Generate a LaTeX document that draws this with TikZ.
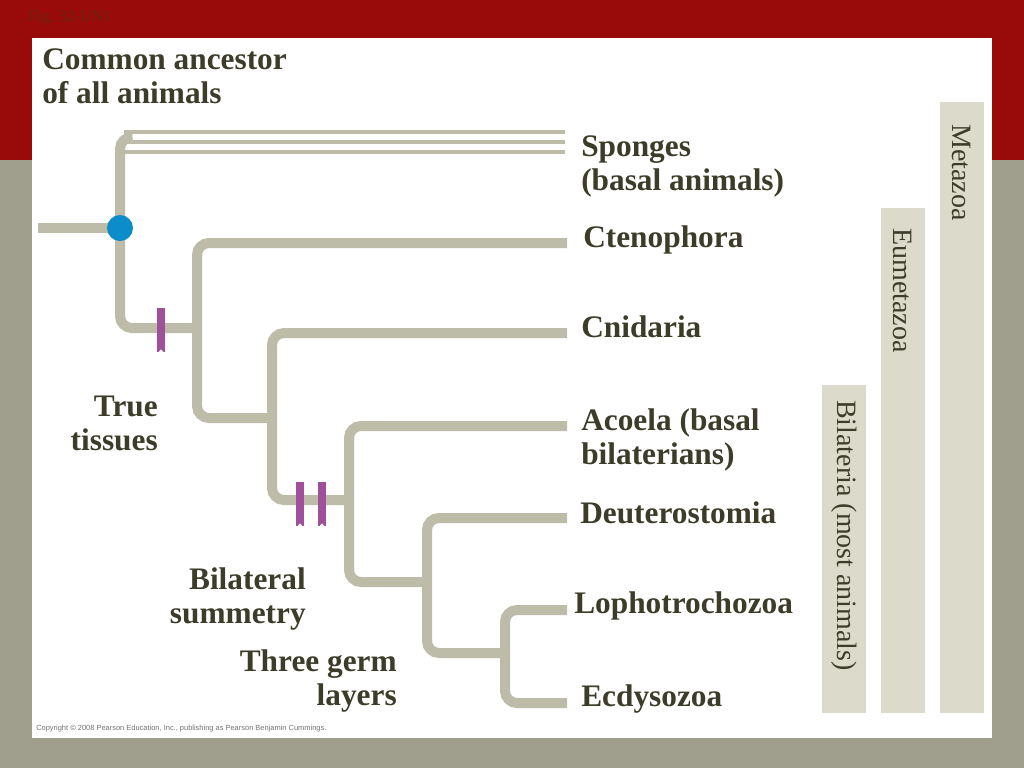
\documentclass[tikz,border=0pt]{standalone}
\usepackage{fontspec}
\setmainfont{Liberation Serif}
\newfontfamily\copyfont{Liberation Sans}
\definecolor{slidered}{HTML}{990B0B}
\definecolor{slidegray}{HTML}{A09E8C}
\definecolor{stem}{HTML}{BDBCA8}
\definecolor{dotblue}{HTML}{0D8CCB}
\definecolor{purp}{HTML}{A0509B}
\definecolor{cladefill}{HTML}{DCDBCB}
\definecolor{ink}{HTML}{3D3C29}
\definecolor{figink}{HTML}{6A2412}
\begin{document}
\begin{tikzpicture}[x=0.75pt, y=-0.75pt,
  branch/.style={draw=stem, line width=7.5pt, rounded corners=9pt},
  spongeline/.style={draw=stem, line width=3pt},
  taxon/.style={anchor=base west, align=left, inner sep=0pt, text=ink,
    font=\bfseries\fontsize{23.5}{25.5}\selectfont},
  trait/.style={taxon, anchor=base east, align=right},
  cladename/.style={rotate=-90, anchor=west, inner sep=0pt, text=ink,
    font=\fontsize{21}{23}\selectfont},
  traitbar/.style={fill=purp, minimum width=6pt, minimum height=33pt, inner sep=0pt}]
  % slide background
  \useasboundingbox (0,0) rectangle (1024,768);
  \fill[slidegray] (0,0) rectangle (1024,768);
  \fill[slidered] (0,0) rectangle (1024,160);
  \fill[white] (32,38) rectangle (992,738);
  \node[anchor=base west, inner sep=0pt, text=figink, font=\fontsize{12}{14}\selectfont] (fig) at (28,21) {Fig. 32-UN1};
  \node[anchor=base west, inner sep=0pt, text=black!55, font=\copyfont\fontsize{5.6}{7}\selectfont] (copy) at (36,730) {Copyright \textcopyright\ 2008 Pearson Education, Inc., publishing as Pearson Benjamin Cummings.};

  % clade bars
  \fill[cladefill] (940,102) rectangle (984,713);
  \fill[cladefill] (881,208) rectangle (925,713);
  \fill[cladefill] (822,385) rectangle (866,713);
  \node[cladename] (meta) at (962,124) {Metazoa};
  \node[cladename] (eumeta) at (903,228) {Eumetazoa};
  \node[cladename] (bilat) at (844,400) {Bilateria (most animals)};

  % junctions and tips
  \coordinate (root) at (38,228);
  \coordinate (nA) at (120,228);
  \coordinate (spC) at (130,137);
  \coordinate (aBot) at (120,328);
  \coordinate (nB) at (197,328);
  \coordinate (bBot) at (197,418);
  \coordinate (nC) at (272,418);
  \coordinate (cBot) at (272,500);
  \coordinate (nD) at (349,500);
  \coordinate (dBot) at (349,582);
  \coordinate (nE) at (427,582);
  \coordinate (eBot) at (427,653);
  \coordinate (nF) at (505,653);
  \coordinate (fBot) at (505,703);
  \coordinate (tCten) at (567,243);
  \coordinate (tCnid) at (567,333);
  \coordinate (tAcoe) at (567,426);
  \coordinate (tDeut) at (567,518);
  \coordinate (tLoph) at (567,610);
  \coordinate (tEcdy) at (567,703);

  % branches
  \draw[branch] (root) -- (nA);
  \draw[branch] (spC) -| (aBot) -- (nB);
  \draw[branch] (tCten) -| (bBot) -- (nC);
  \draw[branch] (tCnid) -| (cBot) -- (nD);
  \draw[branch] (tAcoe) -| (dBot) -- (nE);
  \draw[branch] (tDeut) -| (eBot) -- (nF);
  \draw[branch] (tLoph) -| (fBot) -- (tEcdy);
  \foreach \y in {132,142,152}
    \draw[spongeline] (124,\y) -- (565,\y);

  % ancestor dot and trait marks
  \node[circle, fill=dotblue, minimum size=19.5pt, inner sep=0pt] (anc) at (nA) {};
  \node[traitbar] (tissue) at (161,330) {};
  \node[traitbar] (bilsym) at (300,504) {};
  \node[traitbar] (germ) at (322,504) {};
  \foreach \b in {tissue,bilsym,germ}
    \fill[white] ([xshift=-2pt]\b.south) -- ([xshift=2pt]\b.south) -- ([yshift=2.2pt]\b.south) -- cycle;

  % labels (base = last line)
  \node[taxon] (ancestor) at (42,103) {Common ancestor\\of all animals};
  \node[taxon] (sponges) at (581,190) {Sponges\\(basal animals)};
  \node[taxon] (cteno) at (583,247) {Ctenophora};
  \node[taxon] (cnid) at (581,337) {Cnidaria};
  \node[taxon] (acoela) at (581,464) {Acoela (basal\\bilaterians)};
  \node[taxon] (deut) at (580,523) {Deuterostomia};
  \node[taxon] (loph) at (574,613) {Lophotrochozoa};
  \node[taxon] (ecdy) at (581,706) {Ecdysozoa};
  \node[trait] (tisslab) at (158,450) {True\\tissues};
  \node[trait] (bilab) at (306,623) {Bilateral\\summetry};
  \node[trait] (germlab) at (397,705) {Three germ\\layers};
\end{tikzpicture}
\end{document}
